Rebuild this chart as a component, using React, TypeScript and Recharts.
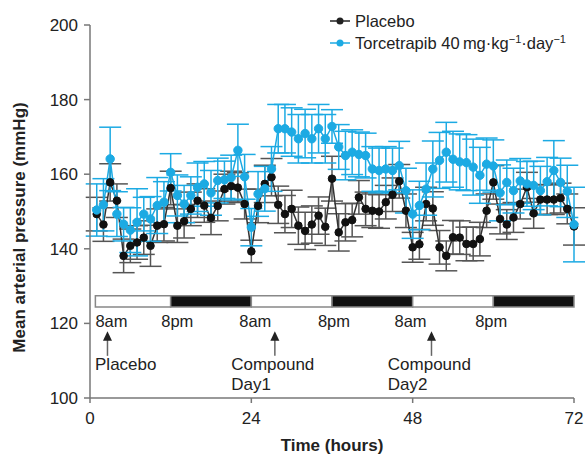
import React from "react";
import {
  LineChart,
  Line,
  XAxis,
  YAxis,
  ErrorBar,
  ReferenceArea,
  ReferenceDot,
  ReferenceLine,
} from "recharts";

// hourly means, hours 1..72
const placebo = [
  149.3, 146.5, 157.8, 152.9, 138.1, 140.8, 141.7, 143.0, 140.8, 146.2, 146.6, 156.3,
  146.2, 147.4, 150.7, 152.9, 151.6, 148.3, 151.5, 156.0, 156.8, 156.4, 152.0, 139.3,
  151.5, 157.4, 159.2, 151.8, 149.3, 150.7, 146.2, 144.8, 146.5, 148.9, 145.9, 158.8,
  144.4, 147.1, 147.7, 153.8, 150.7, 150.2, 150.0, 152.5, 154.5, 158.1, 150.2, 140.4,
  141.2, 152.0, 150.8, 140.4, 138.1, 143.1, 143.0, 141.3, 141.3, 142.6, 150.2, 157.8,
  148.0, 146.5, 148.4, 152.0, 156.5, 149.5, 153.2, 153.2, 153.2, 153.6, 150.7, 146.0,
];
const placeboErr = [
  4.5, 4.5, 5, 4.5, 4.5, 4.5, 4.5, 4.5, 5.5, 4.5, 4.5, 4.5,
  4.5, 4.5, 4.5, 4.5, 4.5, 4.5, 4, 4, 4, 4, 4, 3,
  4.5, 5, 5, 5, 5, 5, 5, 5, 5, 5, 5, 6,
  5, 5, 4.5, 4.5, 4.5, 4.5, 4.5, 4.5, 4.5, 4.5, 4.5, 4,
  4, 4.5, 4.5, 4.5, 4, 4.5, 4.5, 4.5, 4.5, 4.5, 4.5, 4.5,
  4, 4, 4, 4, 4, 4, 4, 4, 4, 4, 4, 5,
];
const torcetrapib = [
  150.4, 151.8, 164.1, 149.3, 146.6, 145.0, 147.1, 149.3, 148.0, 151.6, 152.5, 160.5,
  154.3, 152.0, 154.3, 156.5, 157.4, 155.0, 158.3, 158.5, 159.1, 166.4, 159.3, 145.8,
  154.7, 156.1, 161.4, 172.2, 172.2, 171.3, 169.5, 170.9, 169.5, 172.2, 169.5, 172.8,
  167.3, 165.0, 165.9, 165.3, 165.0, 161.4, 161.0, 161.4, 161.0, 162.3, 155.6, 149.3,
  151.6, 156.0, 161.4, 163.7, 165.9, 164.0, 163.3, 163.1, 161.9, 159.7, 162.7, 162.2,
  155.0, 157.8, 155.6, 158.2, 157.4, 157.0, 155.6, 158.0, 161.0, 157.8, 155.4, 146.5,
];
const torcetrapibErr = [
  7, 7, 8.5, 6, 4.5, 6, 9, 4.5, 6, 7.5, 5.5, 5,
  5.5, 5, 5, 6.5, 6, 6, 6, 5, 6, 7, 6, 5,
  6, 6, 6, 6.5, 6.5, 6.5, 6.5, 6.5, 6.5, 6.5, 6.5, 4.5,
  6, 6.5, 6, 6, 6, 6, 6, 6, 6, 6.5, 6, 6.5,
  6.5, 7, 7.5, 7.5, 8, 7.5, 7.5, 7.5, 7.5, 7.5, 7, 7,
  7.5, 6, 6, 6, 6, 6.5, 6.5, 6.5, 8, 6.5, 7, 10,
];

const hourTicks = [0, 24, 48, 72];
const pressureTicks = [100, 120, 140, 160, 180, 200];

// light/dark bar
const periodStart = [0.8, 12, 24, 36, 48, 60];
const periodEnd = [12, 24, 36, 48, 60, 72];
const periodDark = [false, true, false, true, false, true];
const clockLabels = ["8am", "8pm", "8am", "8pm", "8am", "8pm"];
const clockLabelHours = [0.8, 10.6, 22.2, 33.9, 45.3, 57.3];

// dosing arrows
const doseHours = [2.6, 27.5, 50.8];
const doseTextHours = [0.75, 21, 44.3];
const doseLines = [["Placebo"], ["Compound", "Day1"], ["Compound", "Day2"]];

const BLUE = "#1caae3";
const INK = "#222";
const FONT = "'Liberation Sans', Arial, sans-serif";

const data = placebo.map((v, i) => ({
  hour: i + 1,
  placebo: v,
  placeboErr: placeboErr[i],
  torcetrapib: torcetrapib[i],
  torcetrapibErr: torcetrapibErr[i],
}));

const yTitle = (p: any) => {
  const vb = p.viewBox;
  const cx = 19;
  const cy = vb.y + vb.height / 2 + 16;
  return (
    <text
      x={cx}
      y={cy}
      transform={`rotate(-90 ${cx} ${cy})`}
      textAnchor="middle"
      dominantBaseline="central"
      fontFamily={FONT}
      fontSize={17}
      fontWeight="bold"
      fill={INK}>
      Mean arterial pressure (mmHg)
    </text>
  );
};

const xTitle = (p: any) => {
  const vb = p.viewBox;
  return (
    <text
      x={vb.x + vb.width / 2}
      y={445}
      textAnchor="middle"
      dominantBaseline="central"
      fontFamily={FONT}
      fontSize={17}
      fontWeight="bold"
      fill={INK}>
      Time (hours)
    </text>
  );
};

function LegendRow({ color, children }: { color: string; children: React.ReactNode }) {
  return (
    <div style={{ display: "flex", alignItems: "center", height: 22 }}>
      <svg width={28} height={12}>
        <line x1={3} y1={6} x2={23} y2={6} stroke={color} strokeWidth={1.5} />
        <circle cx={13} cy={6} r={3.5} fill={color} />
      </svg>
      <span>{children}</span>
    </div>
  );
}

export default function App() {
  const tickStyle = { fontFamily: FONT, fontSize: 17, fill: INK };
  return (
    <div
      style={{
        position: "absolute",
        left: 0,
        top: 0,
        width: 585,
        height: 456,
        background: "#fff",
      }}>
      <LineChart
        width={585}
        height={456}
        data={data}
        margin={{ top: 25, right: 11, bottom: 28, left: 30 }}>
        <XAxis
          type="number"
          dataKey="hour"
          domain={[0, 72]}
          ticks={hourTicks}
          stroke="#777"
          strokeWidth={1.5}
          tickSize={5}
          tickMargin={9}
          tick={tickStyle}
          height={30}
          label={xTitle}
        />
        <YAxis
          type="number"
          domain={[100, 200]}
          ticks={pressureTicks}
          stroke="#777"
          strokeWidth={1.5}
          tickSize={6}
          tickMargin={6}
          tick={tickStyle}
          width={60}
          label={yTitle}
        />

        {periodStart.map((s, i) => (
          <ReferenceArea
            key={"p" + i}
            x1={s}
            x2={periodEnd[i]}
            y1={124.4}
            y2={127.4}
            fill={periodDark[i] ? "#111" : "#fff"}
            fillOpacity={1}
            stroke="#888"
            strokeWidth={1.5}
          />
        ))}

        {clockLabels.map((t, i) => (
          <ReferenceDot
            key={"c" + i}
            x={clockLabelHours[i]}
            y={119}
            r={0}
            shape={(p: any) => (
              <text x={p.cx} y={p.cy} fontFamily={FONT} fontSize={16.5} fill={INK}>
                {t}
              </text>
            )}
          />
        ))}

        {doseHours.map((h, i) => (
          <ReferenceLine
            key={"a" + i}
            segment={[
              { x: h, y: 111.3 },
              { x: h, y: 116 },
            ]}
            stroke="#666"
            strokeWidth={1.5}
          />
        ))}
        {doseHours.map((h, i) => (
          <ReferenceDot
            key={"h" + i}
            x={h}
            y={117.9}
            r={0}
            shape={(p: any) => (
              <path
                d={`M${p.cx},${p.cy} L${p.cx - 4.5},${p.cy + 9.5} L${p.cx + 4.5},${p.cy + 9.5} Z`}
                fill="#222"
              />
            )}
          />
        ))}
        {doseLines.map((lines, i) => (
          <ReferenceDot
            key={"d" + i}
            x={doseTextHours[i]}
            y={107.6}
            r={0}
            shape={(p: any) => (
              <text x={p.cx} y={p.cy} fontFamily={FONT} fontSize={17} fill={INK}>
                {lines.map((ln, j) => (
                  <tspan key={j} x={p.cx} dy={j === 0 ? 0 : 20}>
                    {ln}
                  </tspan>
                ))}
              </text>
            )}
          />
        ))}

        <Line
          dataKey="placebo"
          stroke="#333"
          strokeWidth={1.5}
          dot={{ r: 3.8, fill: "#111", stroke: "#111", strokeWidth: 1 }}
          isAnimationActive={false}>
          <ErrorBar
            dataKey="placeboErr"
            width={11}
            stroke="#555"
            strokeWidth={1.5}
            direction="y"
            isAnimationActive={false}
          />
        </Line>
        <Line
          dataKey="torcetrapib"
          stroke={BLUE}
          strokeWidth={1.5}
          dot={{ r: 4.2, fill: BLUE, stroke: BLUE, strokeWidth: 1 }}
          isAnimationActive={false}>
          <ErrorBar
            dataKey="torcetrapibErr"
            width={11}
            stroke={BLUE}
            strokeWidth={1.5}
            direction="y"
            isAnimationActive={false}
          />
        </Line>
      </LineChart>

      <div
        style={{
          position: "absolute",
          left: 327,
          top: 10,
          fontFamily: FONT,
          fontSize: 16.5,
          color: INK,
          lineHeight: "22px",
        }}>
        <LegendRow color="#222">Placebo</LegendRow>
        <LegendRow color={BLUE}>
          Torcetrapib 40{"\u2009"}mg·kg<sup style={{ fontSize: 11, lineHeight: 0 }}>−1</sup>·day
          <sup style={{ fontSize: 11, lineHeight: 0 }}>−1</sup>
        </LegendRow>
      </div>
    </div>
  );
}
